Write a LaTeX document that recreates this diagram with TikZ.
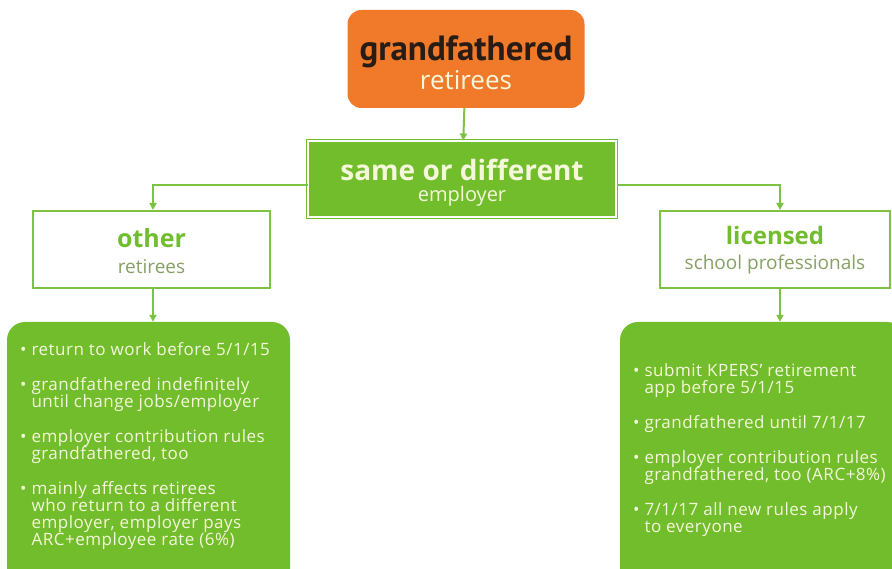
\documentclass[tikz,border=0pt]{standalone}
\usepackage{fontspec}
\setmainfont{Open Sans}
\newfontfamily\condfont{PT Sans}
\newfontfamily\listfont[LetterSpace=3]{Open Sans}
\usetikzlibrary{arrows.meta}
\definecolor{kporange}{RGB}{240,122,42}
\definecolor{kpgreen}{RGB}{114,189,44}
\definecolor{kpline}{RGB}{125,194,66}
\definecolor{kpcream}{RGB}{244,247,218}
\definecolor{kpgrey}{RGB}{135,160,100}
\definecolor{kpdark}{RGB}{40,28,20}
\newcommand{\kpsize}[2]{\fontsize{#1}{#2}\selectfont\lineskiplimit=-20pt\relax}

\begin{document}
\begin{tikzpicture}[x=1pt, y=-1pt]
            \tikzstyle{topbox}=[fill=kporange,rounded corners=14pt,minimum width=237pt,minimum height=98pt,align=center,inner sep=0pt]
            \tikzstyle{midbox}=[fill=kpgreen,draw=kpgreen,double=white,double distance=1.2pt,line width=1pt,minimum width=308pt,minimum height=76pt,align=center,inner sep=0pt]
            \tikzstyle{groupbox}=[fill=white,draw=kpline,line width=2pt,minimum height=77pt,align=center,inner sep=0pt]
            \tikzstyle{listbox}=[fill=kpgreen,rounded corners=18pt,minimum height=270pt]
            \tikzstyle{listtext}=[anchor=north west,align=left,inner sep=0pt,text=kpcream,font=\listfont\kpsize{17}{17}]
            \tikzstyle{link}=[draw=kpline,line width=2pt,-{Triangle[length=7pt,width=7pt]}]

            \useasboundingbox (0,0) rectangle (892,569);
            \clip (0,0) rectangle (892,569);

            \node[topbox,font=\kpsize{10}{29}] (N_top) at (466,59) {%
                {\condfont\kpsize{35}{29}\bfseries\color{kpdark}\rule{0pt}{33pt}grandfathered}\\
                {\kpsize{26}{29}\color{kpcream}retirees}};
            \node[midbox,font=\kpsize{10}{21}] (N_mid) at (462,179) {%
                {\kpsize{28}{21}\bfseries\color{kpcream}\rule{0pt}{29pt}same or different}\\
                {\kpsize{20}{21}\color{kpcream}employer}};
            \node[groupbox,minimum width=237pt,font=\kpsize{10}{26}] (N_other) at (151.5,249.5) {%
                {\kpsize{25}{26}\bfseries\color{kpgreen}\rule{0pt}{23pt}other}\\
                {\kpsize{19}{26}\color{kpgrey}retirees}};
            \node[groupbox,minimum width=230pt,font=\kpsize{10}{25}] (N_lic) at (775,249.5) {%
                {\kpsize{24}{25}\bfseries\color{kpgreen}\rule{0pt}{20pt}licensed}\\
                {\kpsize{19}{25}\color{kpgrey}school professionals}};
            \node[listbox,minimum width=283pt] (B_other) at (148.5,457) {};
            \node[listbox,minimum width=285pt] (B_lic) at (762.5,457) {};

            % bullet lists
            \node[listtext] (T_other) at (20,342) {%
                \textbullet\ return to work before 5/1/15\\[18pt]
                \textbullet\ grandfathered indefinitely\\
                \phantom{\textbullet\ }until change jobs/employer\\[18pt]
                \textbullet\ employer contribution rules\\
                \phantom{\textbullet\ }grandfathered, too\\[18pt]
                \textbullet\ mainly affects retirees\\
                \phantom{\textbullet\ }who return to a different\\
                \phantom{\textbullet\ }employer, employer pays\\
                \phantom{\textbullet\ }ARC+employee rate (6\%)};
            \node[listtext] (T_lic) at (633,363) {%
                \textbullet\ submit KPERS’ retirement\\
                \phantom{\textbullet\ }app before 5/1/15\\[18pt]
                \textbullet\ grandfathered until 7/1/17\\[18pt]
                \textbullet\ employer contribution rules\\
                \phantom{\textbullet\ }grandfathered, too (ARC+8\%)\\[18pt]
                \textbullet\ 7/1/17 all new rules apply\\
                \phantom{\textbullet\ }to everyone};

            \draw[link] (N_top) -- (N_mid);
            \draw[link] ([yshift=-6pt]N_mid.west) -| ([xshift=1.5pt]N_other.north);
            \draw[link] ([yshift=-6pt]N_mid.east) -| ([xshift=5pt]N_lic.north);
            \draw[link] ([xshift=1.5pt]N_other.south) -- ([xshift=1.5pt]N_other.south |- B_other.north);
            \draw[link] ([xshift=5pt]N_lic.south) -- ([xshift=5pt]N_lic.south |- B_lic.north);
\end{tikzpicture}
\end{document}
